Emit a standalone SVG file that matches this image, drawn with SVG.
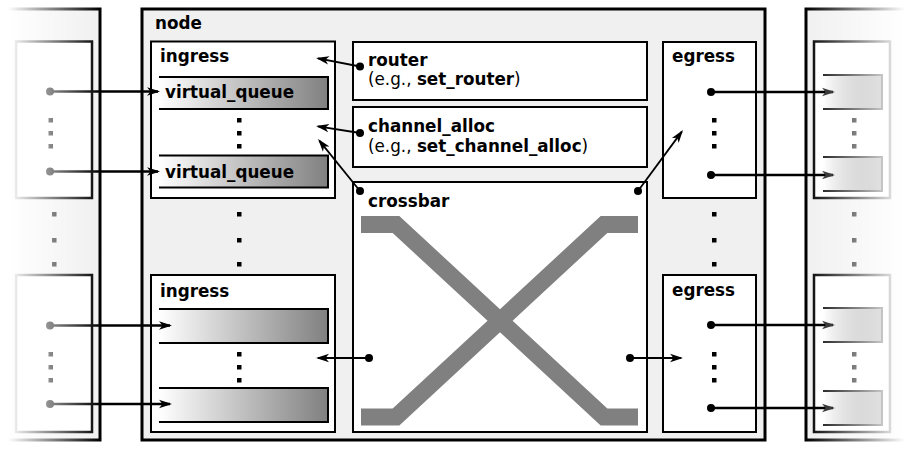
<svg xmlns="http://www.w3.org/2000/svg" width="907" height="450" viewBox="0 0 907 450">
<style>
text{font-family:"DejaVu Sans",sans-serif;font-size:16.8px;fill:#000}
.b{font-weight:bold}
.box{fill:#fff;stroke:#000;stroke-width:2}
.q{fill:url(#qg);stroke:none}
.qs{fill:none;stroke:#000;stroke-width:2}
.sq{fill:#000}
.ln{fill:none;stroke:#000;stroke-width:1.8;marker-end:url(#ah)}
.ext{fill:none;stroke-width:2.5;marker-end:url(#ah)}
.xb{fill:none;stroke:#808080;stroke-width:17;stroke-linejoin:miter}
</style>
<defs>
<linearGradient id="qg" x1="0" y1="0" x2="1" y2="0"><stop offset="0" stop-color="#fff"/><stop offset="1" stop-color="#808080"/></linearGradient>
<linearGradient id="fadeL" gradientUnits="userSpaceOnUse" x1="8" y1="0" x2="100" y2="0"><stop offset="0" stop-color="#000"/><stop offset="1" stop-color="#fff"/></linearGradient>
<linearGradient id="fadeR" gradientUnits="userSpaceOnUse" x1="806" y1="0" x2="905" y2="0"><stop offset="0" stop-color="#fff"/><stop offset="1" stop-color="#000"/></linearGradient>
<linearGradient id="lineL" gradientUnits="userSpaceOnUse" x1="8" y1="0" x2="100" y2="0"><stop offset="0" stop-color="#fff"/><stop offset="1" stop-color="#000"/></linearGradient>
<mask id="mL" maskUnits="userSpaceOnUse" x="-30" y="0" width="140" height="450"><rect x="-30" y="0" width="140" height="450" fill="url(#fadeL)"/></mask>
<mask id="mR" maskUnits="userSpaceOnUse" x="795" y="0" width="120" height="450"><rect x="795" y="0" width="120" height="450" fill="url(#fadeR)"/></mask>
<marker id="ah" markerUnits="userSpaceOnUse" markerWidth="14" markerHeight="10" viewBox="0 0 14 10" refX="11" refY="5" orient="auto"><path d="M13,5 L0,0.8 L3.5,5 L0,9.2 Z" fill="#000"/></marker>
<marker id="ahg" markerUnits="userSpaceOnUse" markerWidth="14" markerHeight="10" viewBox="0 0 14 10" refX="11" refY="5" orient="auto"><path d="M13,5 L0,0.8 L3.5,5 L0,9.2 Z" fill="#3a3a3a"/></marker>
</defs>

<g id="neighbor-left" mask="url(#mL)">
<rect x="-20" y="9" width="120" height="431" fill="#f0f0f0" stroke="#000" stroke-width="3"/>
<rect x="16" y="41.5" width="76" height="156.5" fill="#fff" stroke="#000" stroke-width="2.5"/>
<rect x="16" y="275" width="76" height="157" fill="#fff" stroke="#000" stroke-width="2.5"/>
<circle cx="50" cy="91.5" r="4"/><circle cx="50" cy="171.5" r="4"/>
<circle cx="50" cy="325.5" r="4"/><circle cx="50" cy="404" r="4"/>
<rect x="48.5" y="118" width="4.5" height="4.5"/><rect x="48.5" y="131" width="4.5" height="4.5"/><rect x="48.5" y="144" width="4.5" height="4.5"/>
<rect x="52" y="212" width="4.5" height="4.5"/><rect x="52" y="238" width="4.5" height="4.5"/><rect x="52" y="262" width="4.5" height="4.5"/>
<rect x="48.5" y="352" width="4.5" height="4.5"/><rect x="48.5" y="365" width="4.5" height="4.5"/><rect x="48.5" y="378" width="4.5" height="4.5"/>
</g>

<g id="neighbor-right" mask="url(#mR)">
<rect x="806" y="9" width="130" height="431" fill="#f0f0f0" stroke="#000" stroke-width="3"/>
<rect x="814" y="41.5" width="76" height="156.5" fill="#fff" stroke="#000" stroke-width="2.5"/>
<rect x="814" y="275" width="76" height="157" fill="#fff" stroke="#000" stroke-width="2.5"/>
<rect class="q" x="823" y="75" width="59" height="34"/><path class="qs" d="M823,75 H882 V109 H823"/>
<rect class="q" x="823" y="157" width="59" height="34"/><path class="qs" d="M823,157 H882 V191 H823"/>
<rect class="q" x="823" y="308" width="59" height="34"/><path class="qs" d="M823,308 H882 V342 H823"/>
<rect class="q" x="823" y="391" width="59" height="34"/><path class="qs" d="M823,391 H882 V425 H823"/>
<rect x="852" y="118" width="4.5" height="4.5"/><rect x="852" y="131" width="4.5" height="4.5"/><rect x="852" y="144" width="4.5" height="4.5"/>
<rect x="852" y="212" width="4.5" height="4.5"/><rect x="852" y="238" width="4.5" height="4.5"/><rect x="852" y="262" width="4.5" height="4.5"/>
<rect x="852" y="352" width="4.5" height="4.5"/><rect x="852" y="365" width="4.5" height="4.5"/><rect x="852" y="378" width="4.5" height="4.5"/>
</g>

<g id="node">
<rect x="142" y="9" width="623" height="431" fill="#f0f0f0" stroke="#000" stroke-width="3"/>
<text class="b" x="155" y="29">node</text>
<rect class="sq" x="237" y="212" width="4.5" height="4.5"/><rect class="sq" x="237" y="238" width="4.5" height="4.5"/><rect class="sq" x="237" y="262" width="4.5" height="4.5"/>
<rect class="sq" x="712" y="212" width="4.5" height="4.5"/><rect class="sq" x="712" y="238" width="4.5" height="4.5"/><rect class="sq" x="712" y="262" width="4.5" height="4.5"/>
</g>

<g id="ingress-1">
<rect class="box" x="151" y="41.5" width="184" height="156.5" stroke-width="3"/>
<text class="b" x="160" y="62">ingress</text>
<rect class="q" x="159" y="77" width="169" height="32"/><path class="qs" d="M159,77 H328 V109 H159"/>
<text class="b" x="165" y="98">virtual_queue</text>
<rect class="sq" x="237" y="118" width="4.5" height="4.5"/><rect class="sq" x="237" y="131" width="4.5" height="4.5"/><rect class="sq" x="237" y="144" width="4.5" height="4.5"/>
<rect class="q" x="159" y="155.5" width="169" height="32"/><path class="qs" d="M159,155.5 H328 V187.5 H159"/>
<text class="b" x="165" y="178">virtual_queue</text>
</g>

<g id="ingress-2">
<rect class="box" x="151" y="275" width="184" height="157" stroke-width="2.3"/>
<text class="b" x="160" y="297">ingress</text>
<rect class="q" x="159" y="309" width="169" height="34"/><path class="qs" d="M159,309 H328 V343 H159"/>
<rect class="sq" x="237" y="352" width="4.5" height="4.5"/><rect class="sq" x="237" y="365" width="4.5" height="4.5"/><rect class="sq" x="237" y="378" width="4.5" height="4.5"/>
<rect class="q" x="159" y="388" width="169" height="34"/><path class="qs" d="M159,388 H328 V422 H159"/>
</g>

<g id="router">
<rect class="box" x="353" y="42" width="294" height="58"/>
<text class="b" x="368" y="66">router</text>
<text x="368" y="85">(e.g., <tspan class="b">set_router</tspan>)</text>
</g>

<g id="channel_alloc">
<rect class="box" x="353" y="107" width="294" height="60"/>
<text class="b" x="368" y="132">channel_alloc</text>
<text x="368" y="152">(e.g., <tspan class="b">set_channel_alloc</tspan>)</text>
</g>

<g id="crossbar">
<rect class="box" x="353" y="182" width="294" height="250"/>
<text class="b" x="368" y="207">crossbar</text>
<path class="xb" d="M361,224.5 H396 L604,417 H638"/>
<path class="xb" d="M361,417 H396 L604,224.5 H638"/>
</g>

<g id="egress-1">
<rect class="box" x="663" y="42" width="93" height="156"/>
<text class="b" x="672" y="62">egress</text>
<rect class="sq" x="712" y="118" width="4.5" height="4.5"/><rect class="sq" x="712" y="131" width="4.5" height="4.5"/><rect class="sq" x="712" y="144" width="4.5" height="4.5"/>
</g>

<g id="egress-2">
<rect class="box" x="663" y="275" width="93" height="157"/>
<text class="b" x="672" y="296">egress</text>
<rect class="sq" x="712" y="352" width="4.5" height="4.5"/><rect class="sq" x="712" y="365" width="4.5" height="4.5"/><rect class="sq" x="712" y="378" width="4.5" height="4.5"/>
</g>

<g id="connectors">
<path class="ext" stroke="url(#lineL)" d="M50,91.5 H158"/>
<path class="ext" stroke="url(#lineL)" d="M50,171.5 H158"/>
<path class="ext" stroke="url(#lineL)" d="M50,325.5 H170"/>
<path class="ext" stroke="url(#lineL)" d="M50,404 H170"/>
<path class="ln" d="M360,66.5 L318,58.4"/>
<path class="ln" d="M360,133 L318,126.3"/>
<path class="ln" d="M360,191 L319.3,140.6"/>
<path class="ln" d="M638,191 L681.8,131.6"/>
<path class="ln" d="M369,358 L318,358"/>
<path class="ln" d="M630,358 L681,358"/>
<path class="ext" stroke="#000" style="marker-end:url(#ahg)" d="M711,92 H833"/>
<path class="ext" stroke="#000" style="marker-end:url(#ahg)" d="M711,175 H833"/>
<path class="ext" stroke="#000" style="marker-end:url(#ahg)" d="M711,325 H833"/>
<path class="ext" stroke="#000" style="marker-end:url(#ahg)" d="M711,408 H833"/>
<circle cx="360" cy="66.5" r="4"/><circle cx="360" cy="133" r="4"/>
<circle cx="360" cy="191" r="4"/><circle cx="638" cy="191" r="4"/>
<circle cx="369" cy="358" r="4"/><circle cx="630" cy="358" r="4"/>
<circle cx="711" cy="92" r="4"/><circle cx="711" cy="175" r="4"/>
<circle cx="711" cy="325" r="4"/><circle cx="711" cy="408" r="4"/>
</g>
</svg>
